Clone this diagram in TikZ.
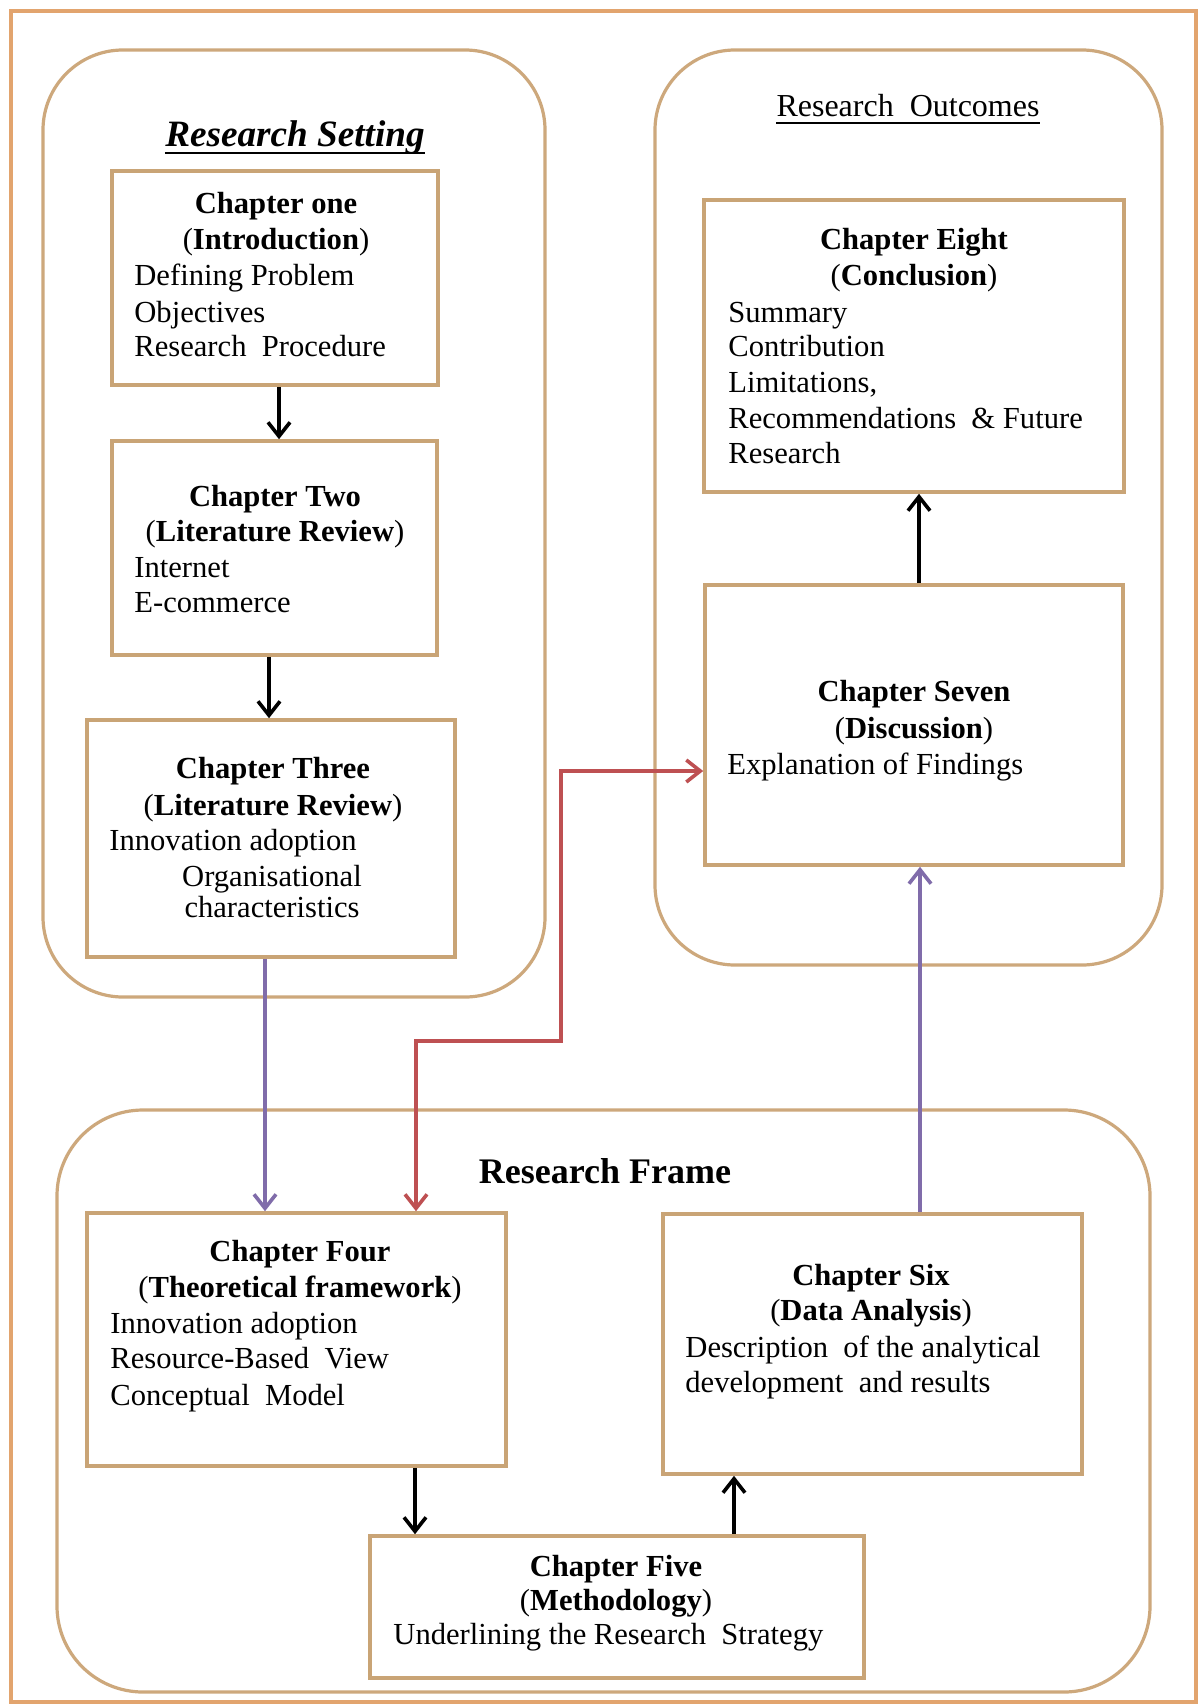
\documentclass[tikz,border=0pt]{standalone}
\usepackage{fontspec}
\setmainfont{Liberation Serif}
\usetikzlibrary{arrows.meta,fit}
\definecolor{outerc}{RGB}{226,164,110}
\definecolor{contc}{RGB}{205,168,124}
\definecolor{boxc}{RGB}{201,164,118}
\definecolor{purpc}{RGB}{128,108,170}
\definecolor{redc}{RGB}{190,80,82}
\tikzset{
  frame/.style={draw=outerc, line width=1.8pt, inner sep=0pt},
  container/.style={draw=contc, line width=1.6pt, rounded corners=40pt, inner sep=0pt},
  chbox/.style={draw=boxc, line width=1.8pt, fill=white, inner sep=0pt},
  ln/.style={inner sep=0pt, font=\fontsize{15.3}{17.5}\selectfont},
  barb/.style={-{Straight Barb[length=7pt,width=11pt,line width=1.8pt]}},
  blk/.style={draw=black, line width=1.9pt, barb},
  purp/.style={draw=purpc, line width=1.9pt, barb},
  redl/.style={draw=redc, line width=1.9pt,
    {Straight Barb[length=7pt,width=11pt,line width=1.8pt]}-{Straight Barb[length=7pt,width=11pt,line width=1.8pt]}},
  ul/.style={draw=black, line width=1.1pt}
}
\newcommand{\ctr}[4]{\node[ln,anchor=base] (#1) at (#2,#3) {#4};}
\newcommand{\lft}[4]{\node[ln,anchor=base west] (#1) at (#2,#3) {#4};}
\begin{document}
\begin{tikzpicture}[x=0.5pt,y=-0.5pt]
\useasboundingbox (0,0) rectangle (1200,1706);
\fill[white] (0,0) rectangle (1200,1706);
% outer frame
\node[frame, fit={(11,11) (1196,1702)}] (outer) {};
% containers
\node[container, fit={(43,50) (545,997)}] (rs) {};
\node[container, fit={(655,50) (1162,965)}] (ro) {};
\node[container, rounded corners=43pt, fit={(57,1110) (1150,1692)}] (rf) {};
% container titles
\node[inner sep=0pt, anchor=base, font=\fontsize{18.6}{21}\selectfont\bfseries\itshape] (rst) at (295,147) {Research Setting};
\draw[ul] ([yshift=-3pt]rst.base west) -- ([yshift=-3pt]rst.base east);
\node[inner sep=0pt, anchor=base, font=\fontsize{16}{19}\selectfont] (rot) at (908,117) {Research~ Outcomes};
\draw[ul] ([yshift=-3pt]rot.base west) -- ([yshift=-3pt]rot.base east);
\node[inner sep=0pt, anchor=base, font=\fontsize{18}{21}\selectfont\bfseries] (rft) at (605,1183) {Research Frame};
% chapter boxes
\node[chbox, fit={(112,171) (438,385)}] (c1) {};
\node[chbox, fit={(112,441) (437,655)}] (c2) {};
\node[chbox, fit={(87,720) (455,957)}] (c3) {};
\node[chbox, fit={(87,1213) (506,1466)}] (c4) {};
\node[chbox, fit={(370,1536) (864,1678)}] (c5) {};
\node[chbox, fit={(663,1214) (1082,1474)}] (c6) {};
\node[chbox, fit={(705,585) (1123,865)}] (c7) {};
\node[chbox, fit={(704,200) (1124,492)}] (c8) {};
% chapter one
\ctr{c1a}{276}{214}{\textbf{Chapter one}}
\ctr{c1b}{276}{250}{(\textbf{Introduction})}
\lft{c1c}{134}{286}{Defining Problem}
\lft{c1d}{134}{322}{Objectives}
\lft{c1e}{134}{357}{Research~ Procedure}
% chapter two
\ctr{c2a}{275}{506}{\textbf{Chapter Two}}
\ctr{c2b}{275}{541}{(\textbf{Literature Review})}
\lft{c2c}{134}{577}{Internet}
\lft{c2d}{134}{612}{E-commerce}
% chapter three
\ctr{c3a}{273}{778}{\textbf{Chapter Three}}
\ctr{c3b}{273}{815}{(\textbf{Literature Review})}
\lft{c3c}{109}{850}{Innovation adoption}
\ctr{c3d}{272}{886}{Organisational}
\ctr{c3e}{272}{917}{characteristics}
% chapter four
\ctr{c4a}{300}{1261}{\textbf{Chapter Four}}
\ctr{c4b}{300}{1297}{(\textbf{Theoretical framework})}
\lft{c4c}{110}{1333}{Innovation adoption}
\lft{c4d}{110}{1368}{Resource-Based~ View}
\lft{c4e}{110}{1405}{Conceptual~ Model}
% chapter five
\ctr{c5a}{616}{1576}{\textbf{Chapter Five}}
\ctr{c5b}{616}{1610}{(\textbf{Methodology})}
\lft{c5c}{393}{1644}{Underlining the Research~ Strategy}
% chapter six
\ctr{c6a}{871}{1285}{\textbf{Chapter Six}}
\ctr{c6b}{871}{1320}{(\textbf{Data Analysis})}
\lft{c6c}{685}{1357}{Description~ of the analytical}
\lft{c6d}{685}{1392}{development~ and results}
% chapter seven
\ctr{c7a}{914}{701}{\textbf{Chapter Seven}}
\ctr{c7b}{914}{738}{(\textbf{Discussion})}
\lft{c7c}{727}{774}{Explanation of Findings}
% chapter eight
\ctr{c8a}{914}{250}{\textbf{Chapter Eight}}
\ctr{c8b}{914}{286}{(\textbf{Conclusion})}
\lft{c8c}{728}{322}{Summary}
\lft{c8d}{728}{357}{Contribution}
\lft{c8e}{728}{393}{Limitations,}
\lft{c8f}{728}{428}{Recommendations~ \& Future}
\lft{c8g}{728}{463}{Research}
% connector x positions
\coordinate (xa) at (279,0);
\coordinate (xb) at (269,0);
\coordinate (xp1) at (265,0);
\coordinate (xb4) at (415,0);
\coordinate (xb5) at (734,0);
\coordinate (xp2) at (920,0);
\coordinate (xb7) at (919,0);
\coordinate (r1) at (416,1041);
\coordinate (r2) at (561,771);
% connectors
\draw[blk] (c1.south -| xa) -- (c2.north -| xa);
\draw[blk] (c2.south -| xb) -- (c3.north -| xb);
\draw[purp] (c3.south -| xp1) -- (c4.north -| xp1);
\draw[blk] (c4.south -| xb4) -- (c5.north -| xb4);
\draw[blk] (c5.north -| xb5) -- (c6.south -| xb5);
\draw[purp] (c6.north -| xp2) -- (c7.south -| xp2);
\draw[blk] (c7.north -| xb7) -- (c8.south -| xb7);
\draw[redl] (c4.north -| r1) -- (r1) -| (r2) -- (c7.west |- r2);
\end{tikzpicture}
\end{document}
